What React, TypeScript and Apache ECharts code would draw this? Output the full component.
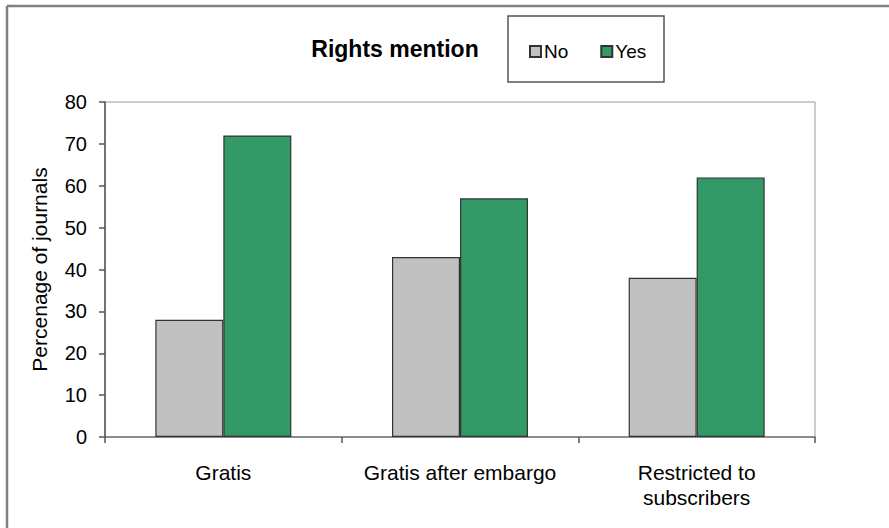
import React, { useEffect, useRef } from "react";
import * as echarts from "echarts";

const categories = ["Gratis", "Gratis after embargo", "Restricted to\nsubscribers"];
const noValues = [28, 43, 38];
const yesValues = [72, 57, 62];
const seriesNames = ["No", "Yes"];
const yMin = 0;
const yMax = 80;
const yInterval = 10;

const FONT = 'Arial, "Liberation Sans", sans-serif';

export default function App() {
  const ref = useRef<HTMLDivElement>(null);
  useEffect(() => {
    if (!ref.current) return;
    const chart = echarts.init(ref.current, undefined, { renderer: "svg" });
    chart.setOption({
      animation: false,
      backgroundColor: "#ffffff",
      textStyle: { fontFamily: FONT },
      graphic: [
        { type: "line", shape: { x1: 7, y1: 6, x2: 889, y2: 6 }, style: { stroke: "#808080", lineWidth: 2.5 } },
        { type: "line", shape: { x1: 7, y1: 6, x2: 7, y2: 528 }, style: { stroke: "#808080", lineWidth: 2.5 } },
        { type: "rect", shape: { x: 508, y: 16, width: 156, height: 66 }, style: { fill: "none", stroke: "#555", lineWidth: 1.5 } },
        {
          type: "text",
          x: 395,
          y: 49,
          style: { text: "Rights mention", font: `bold 23px ${FONT}`, fill: "#000", align: "center", verticalAlign: "middle" },
        },
      ],
      legend: {
        left: 524,
        top: 37,
        itemWidth: 11,
        itemHeight: 11,
        itemGap: 32,
        icon: "rect",
        textStyle: { fontSize: 19, color: "#000", fontFamily: FONT, padding: [0, 0, 0, -2] },
        data: seriesNames,
      },
      grid: {
        left: 105,
        right: 74,
        top: 102,
        bottom: 91,
        show: true,
        borderColor: "#9a9a9a",
        borderWidth: 1,
      },
      xAxis: {
        type: "category",
        data: categories,
        axisLine: { lineStyle: { color: "#777", width: 1.5 } },
        axisTick: { show: true, alignWithLabel: false, length: 6, lineStyle: { color: "#555", width: 1.5 } },
        axisLabel: { fontSize: 21, color: "#000", margin: 23, lineHeight: 25, fontFamily: FONT, interval: 0 },
      },
      yAxis: {
        type: "value",
        min: yMin,
        max: yMax,
        interval: yInterval,
        name: "Percenage of journals",
        nameLocation: "middle",
        nameGap: 55,
        nameTextStyle: { fontSize: 21, color: "#000", fontFamily: FONT },
        splitLine: { show: false },
        axisLine: { show: true, lineStyle: { color: "#555", width: 1.5 } },
        axisTick: { show: true, length: 6, lineStyle: { color: "#555", width: 1.5 } },
        axisLabel: { fontSize: 20, color: "#000", margin: 18, fontFamily: FONT },
      },
      series: [
        {
          name: seriesNames[0],
          type: "bar",
          data: noValues,
          barWidth: 68,
          barGap: "0%",
          itemStyle: { color: "#C0C0C0", borderColor: "#333", borderWidth: 1.2 },
        },
        {
          name: seriesNames[1],
          type: "bar",
          data: yesValues,
          barWidth: 68,
          barGap: "0%",
          itemStyle: { color: "#339966", borderColor: "#333", borderWidth: 1.2 },
        },
      ],
    });
    return () => chart.dispose();
  }, []);
  return <div ref={ref} style={{ position: "fixed", left: 0, top: 0, width: 889, height: 528 }} />;
}
